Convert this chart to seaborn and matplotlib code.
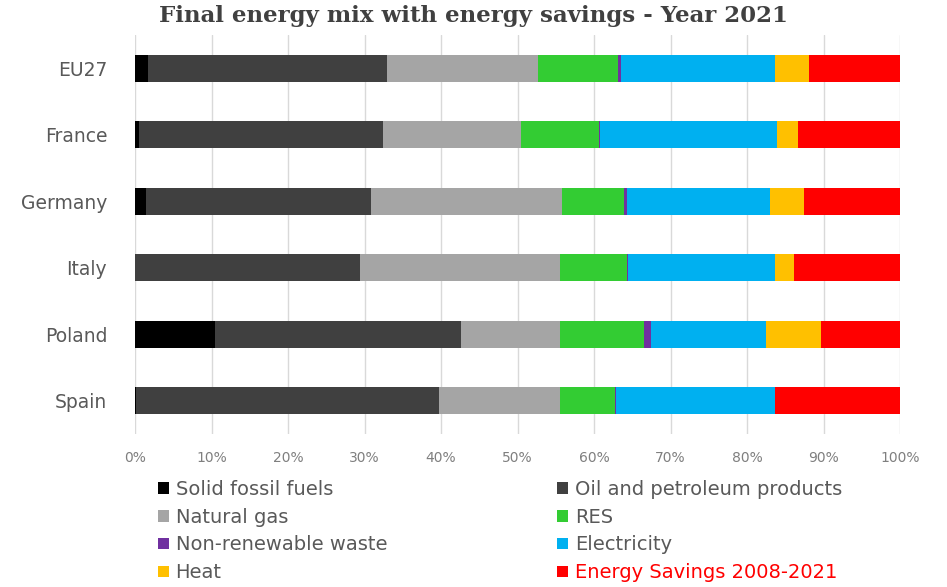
import matplotlib
matplotlib.use("Agg")
import matplotlib.pyplot as plt
from matplotlib.patches import Patch
from matplotlib.ticker import PercentFormatter
import numpy as np
import pandas as pd
import seaborn as sns

# data (% of final energy incl. savings)
countries = ["EU27", "France", "Germany", "Italy", "Poland", "Spain"]
sources = ["Solid fossil fuels", "Oil and petroleum products", "Natural gas", "RES",
           "Non-renewable waste", "Electricity", "Heat", "Energy Savings 2008-2021"]
solid = [1.7, 0.5, 1.4, 0.0, 10.4, 0.1]
oil = [31.2, 31.9, 29.5, 29.4, 32.2, 39.6]
gas = [19.8, 18.1, 24.9, 26.2, 13.0, 15.9]
res = [10.4, 10.2, 8.1, 8.7, 10.9, 7.1]
waste = [0.4, 0.1, 0.4, 0.2, 1.0, 0.2]
electricity = [20.2, 23.2, 18.7, 19.2, 15.0, 20.8]
heat = [4.4, 2.7, 4.5, 2.4, 7.2, 0.0]
savings = [11.9, 13.4, 12.5, 13.9, 10.3, 16.3]

colors = ["#000000", "#404040", "#a5a5a5", "#33cc33",
          "#7030a0", "#00b0f0", "#ffc000", "#ff0000"]

df = pd.DataFrame(dict(zip(sources, [solid, oil, gas, res, waste, electricity, heat, savings])),
                  index=countries)
# rescale each row to exactly 100
df = df.div(df.sum(axis=1), axis=0) * 100
cum = df.cumsum(axis=1)

sns.set_style("white")
plt.rcParams["font.family"] = ["DejaVu Sans"]

fig = plt.figure(figsize=(9.47, 5.87), dpi=100)
ax = fig.add_axes([135 / 947, 1 - 434 / 587, 765 / 947, 399 / 587])

# stacked look: draw cumulative totals from the last segment back to the first
for src, col in reversed(list(zip(sources, colors))):
    sns.barplot(x=cum[src].values, y=countries, color=col, orient="h",
                width=0.4, linewidth=0, saturation=1, ax=ax, zorder=3)

ax.set_xlim(0, 100)
ax.set_ylim(5.5, -0.5)
ax.set_xticks(np.arange(0, 101, 10))
ax.xaxis.set_major_formatter(PercentFormatter(decimals=0))
ax.grid(axis="x", color="#d9d9d9", linewidth=1, zorder=0)
ax.set_axisbelow(True)
for s in ax.spines.values():
    s.set_visible(False)
ax.tick_params(axis="x", labelsize=10, labelcolor="#7f7f7f", length=0, pad=12)
ax.tick_params(axis="y", labelsize=13.5, labelcolor="#595959", length=0, pad=20)
ax.set_xlabel("")
ax.set_ylabel("")

fig.text(0.5, 1 - 16 / 587, "Final energy mix with energy savings - Year 2021",
         ha="center", va="center", fontsize=16.5, fontweight="bold",
         family="DejaVu Serif", color="#404040")

# legend: two columns, filled row by row
order = [0, 2, 4, 6, 1, 3, 5, 7]
handles = [Patch(facecolor=colors[i], edgecolor="none") for i in order]
labels = [sources[i] for i in order]
leg = fig.legend(handles, labels, ncol=2, loc="upper left",
                 bbox_to_anchor=(158 / 947, 1 - 480 / 587), frameon=False,
                 fontsize=14, handlelength=0.55, handleheight=0.55,
                 handletextpad=0.35, labelspacing=0.45, columnspacing=8.75,
                 borderpad=0, borderaxespad=0)
for t in leg.get_texts():
    t.set_color("#595959")
leg.get_texts()[-1].set_color("#ff0000")

fig.savefig("out.png", dpi=100)
